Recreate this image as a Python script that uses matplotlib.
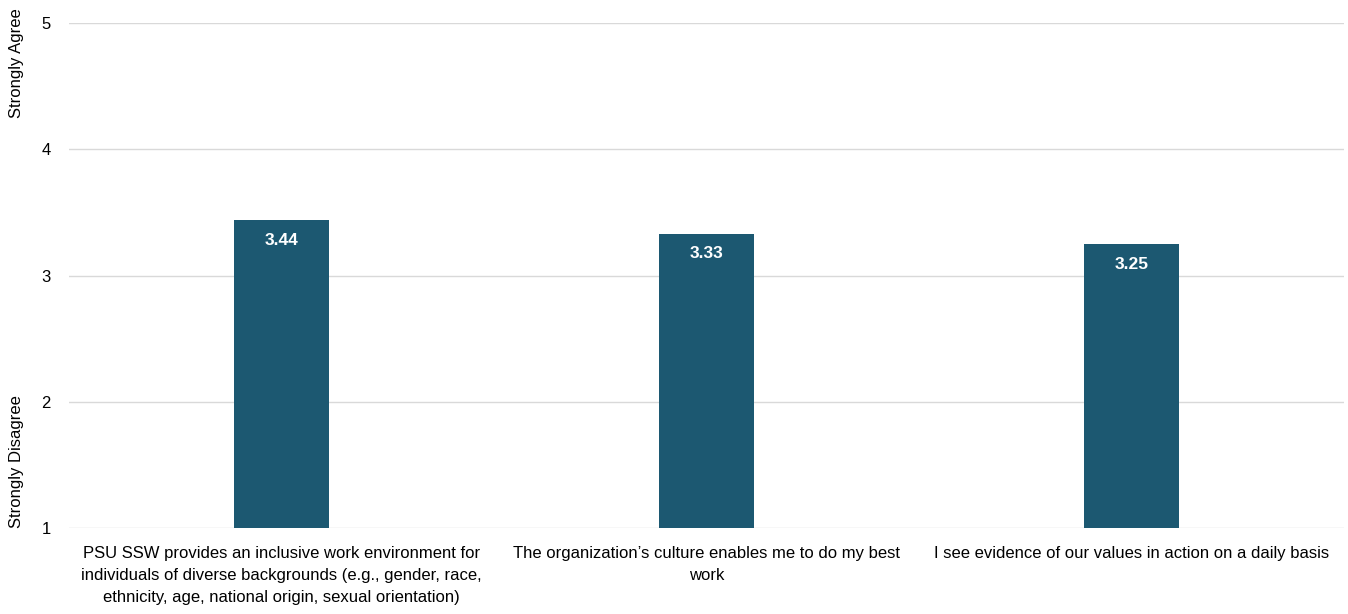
import matplotlib
matplotlib.use("Agg")
import matplotlib.pyplot as plt

categories = [
    "PSU SSW provides an inclusive work environment for\nindividuals of diverse backgrounds (e.g., gender, race,\nethnicity, age, national origin, sexual orientation)",
    "The organization\u2019s culture enables me to do my best\nwork",
    "I see evidence of our values in action on a daily basis",
]
scores = [3.44, 3.33, 3.25]
y_ticks = [1, 2, 3, 4, 5]

plt.rcParams["font.family"] = ["Liberation Sans", "DejaVu Sans"]

fig = plt.figure(figsize=(13.48, 6.14), dpi=100)
ax = fig.add_axes([69 / 1348, 1 - 528 / 614, 1275 / 1348, 505 / 614])

bar_color = "#1c5871"
x = range(len(categories))
ax.bar(x, [s - 1 for s in scores], bottom=1, width=0.224, color=bar_color, zorder=3)

for xi, s in zip(x, scores):
    ax.annotate(f"{s:.2f}", xy=(xi, s), xytext=(0, -14.5), textcoords="offset points",
                ha="center", va="center", color="white", fontsize=12.5, fontweight="bold", zorder=4)

ax.set_xlim(-0.5, len(categories) - 0.5)
ax.set_ylim(1, 5)
ax.set_yticks(y_ticks)
ax.set_yticklabels([str(t) for t in y_ticks], fontsize=12)
ax.set_xticks(list(x))
ax.set_xticklabels(categories, fontsize=12, linespacing=1.6, va="top")
ax.tick_params(axis="y", length=0, pad=13)
ax.tick_params(axis="x", length=0, pad=13)

ax.grid(axis="y", color="#d9d9d9", linewidth=1, zorder=0)
for sp in ax.spines.values():
    sp.set_visible(False)

fig.text(17 / 1348, 1 - 63 / 614, "Strongly Agree", rotation=90, ha="center", va="center", fontsize=12)
fig.text(17 / 1348, 1 - 462 / 614, "Strongly Disagree", rotation=90, ha="center", va="center", fontsize=12)

fig.savefig("out.png", dpi=100)
